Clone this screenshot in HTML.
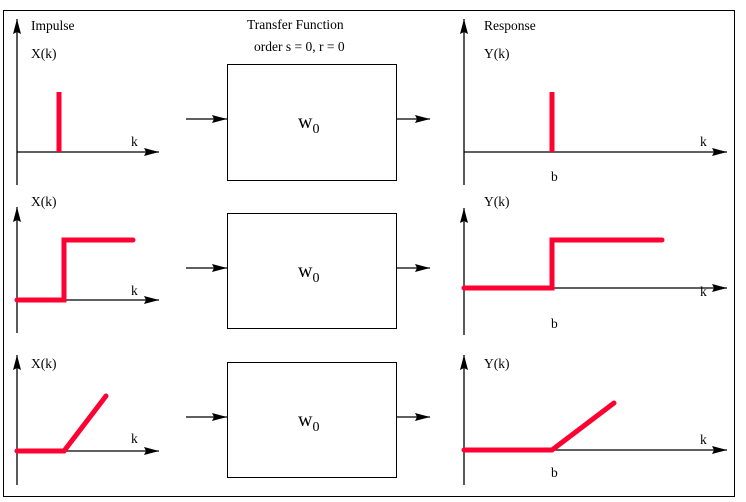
<!DOCTYPE html>
<html><head><meta charset="utf-8"><style>
body{margin:0;background:#fff}
svg{display:block}
text{font-family:"Liberation Serif",serif;font-size:13.5px;fill:#000}
text.w{font-size:20px}
</style></head><body>
<svg width="746" height="502" viewBox="0 0 746 502" xmlns="http://www.w3.org/2000/svg">
<defs>
<marker id="a" markerWidth="16" markerHeight="10" refX="15" refY="5" orient="auto" markerUnits="userSpaceOnUse">
<path d="M15,5 L0,1 L2,5 L0,9 Z" fill="#000"/>
</marker>
</defs>
<rect x="3.5" y="10.5" width="731" height="486" fill="none" stroke="#000"/>
<g stroke="#000" stroke-width="1.3" fill="none" marker-end="url(#a)">
<line x1="17" y1="185" x2="17" y2="19"/>
<line x1="17" y1="152" x2="159" y2="152"/>
<line x1="186" y1="119" x2="227" y2="119"/>
<line x1="396" y1="119" x2="430" y2="119"/>
<line x1="464" y1="185" x2="464" y2="19"/>
<line x1="464" y1="152" x2="727" y2="152"/>
<line x1="17" y1="333" x2="17" y2="207"/>
<line x1="17" y1="300" x2="159" y2="300"/>
<line x1="186" y1="268" x2="227" y2="268"/>
<line x1="396" y1="268" x2="430" y2="268"/>
<line x1="464" y1="335" x2="464" y2="208"/>
<line x1="464" y1="288" x2="727" y2="288"/>
<line x1="17" y1="485" x2="17" y2="355"/>
<line x1="17" y1="451" x2="159" y2="451"/>
<line x1="186" y1="417" x2="227" y2="417"/>
<line x1="396" y1="417" x2="430" y2="417"/>
<line x1="464" y1="485" x2="464" y2="355"/>
<line x1="464" y1="450" x2="727" y2="450"/>
</g>
<g fill="#fff" stroke="#000" stroke-width="1">
<rect x="227.5" y="64.5" width="169" height="116"/>
<rect x="227.5" y="213.5" width="169" height="115"/>
<rect x="227.5" y="362.5" width="169" height="115"/>
</g>
<g stroke="#ff0033" stroke-width="5" fill="none" stroke-linecap="round" stroke-linejoin="miter">
<line x1="59" y1="92" x2="59" y2="152" stroke-linecap="butt"/>
<line x1="552" y1="92" x2="552" y2="152" stroke-linecap="butt"/>
<polyline points="17,300 64,300 64,240 133,240"/>
<polyline points="464,288 552,288 552,240 662,240"/>
<polyline points="17,451 64,451 106,396"/>
<polyline points="464,450 552,450 614,403"/>
</g>
<text x="31" y="30">Impulse</text>
<text x="31" y="58">X(k)</text>
<text x="31" y="206">X(k)</text>
<text x="31" y="368">X(k)</text>
<text x="484" y="30">Response</text>
<text x="484" y="58">Y(k)</text>
<text x="484" y="206">Y(k)</text>
<text x="484" y="368">Y(k)</text>
<text x="247" y="29">Transfer Function</text>
<text x="254" y="51">order s = 0, r = 0</text>
<text x="131" y="146">k</text>
<text x="131" y="295">k</text>
<text x="131" y="443">k</text>
<text x="700" y="146">k</text>
<text x="700" y="296">k</text>
<text x="700" y="444">k</text>
<text x="551" y="181">b</text>
<text x="551" y="328">b</text>
<text x="551" y="477">b</text>
<text class="w" x="298" y="128">w<tspan style="font-size:14px" dy="5">0</tspan></text>
<text class="w" x="298" y="277">w<tspan style="font-size:14px" dy="5">0</tspan></text>
<text class="w" x="298" y="426">w<tspan style="font-size:14px" dy="5">0</tspan></text>
</svg>
</body></html>
